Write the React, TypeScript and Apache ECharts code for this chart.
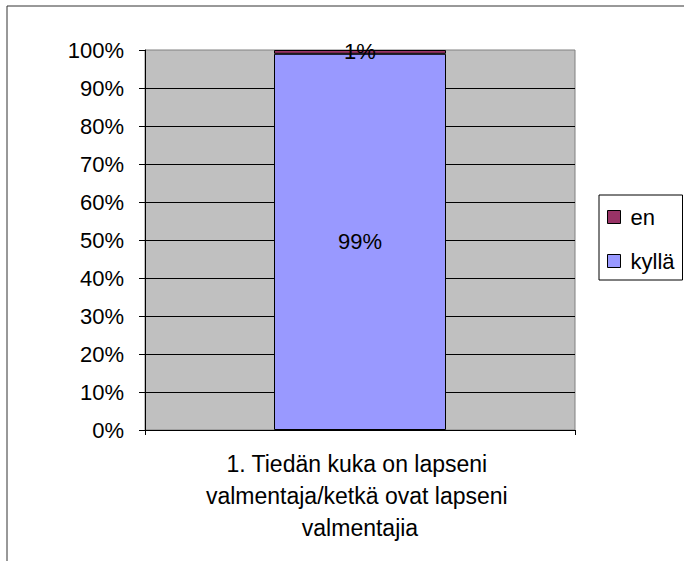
import React, { useEffect, useRef } from "react";
import * as echarts from "echarts";

const categories = ["1. Tiedän kuka on lapseni valmentaja/ketkä ovat lapseni valmentajia"];
const seriesNames = ["kyllä", "en"];
const kyllaValues = [99];
const enValues = [1];
const legendOrder = ["en", "kyllä"];

const FONT = "'Liberation Sans', Arial, sans-serif";

export default function App() {
  const ref = useRef<HTMLDivElement>(null);
  useEffect(() => {
    if (!ref.current) return;
    const chart = echarts.init(ref.current, null, { renderer: "svg" });
    chart.setOption({
      animation: false,
      backgroundColor: "#ffffff",
      textStyle: { fontFamily: FONT },
      graphic: [
        {
          type: "rect",
          shape: { x: 7, y: 6, width: 720, height: 620 },
          style: { fill: "none", stroke: "#333333", lineWidth: 1 },
          silent: true,
          z: 0,
        },
      ],
      grid: {
        left: 145,
        right: 109,
        top: 50,
        bottom: 131,
        show: true,
        backgroundColor: "#C0C0C0",
        borderColor: "#808080",
        borderWidth: 1,
      },
      legend: {
        orient: "vertical",
        left: 599,
        top: 195,
        data: legendOrder,
        icon: "rect",
        itemWidth: 13,
        itemHeight: 13,
        itemGap: 22,
        padding: [11, 8, 8, 8],
        borderColor: "#000000",
        borderWidth: 1,
        backgroundColor: "#ffffff",
        textStyle: {
          fontFamily: FONT,
          fontSize: 22,
          color: "#000000",
          padding: [0, 0, 0, 5],
        },
        itemStyle: { borderColor: "#000000", borderWidth: 1 },
      },
      xAxis: {
        type: "category",
        data: categories,
        axisLine: { show: true, lineStyle: { color: "#000000", width: 1 } },
        axisTick: { show: true, length: 5, lineStyle: { color: "#000000" } },
        axisLabel: {
          fontFamily: FONT,
          fontSize: 23,
          color: "#000000",
          width: 320,
          overflow: "break",
          lineHeight: 32,
          margin: 18,
          align: "center",
        },
        splitLine: { show: false },
      },
      yAxis: {
        type: "value",
        min: 0,
        max: 100,
        interval: 10,
        axisLine: { show: true, lineStyle: { color: "#000000", width: 1 } },
        axisTick: { show: true, length: 6, lineStyle: { color: "#000000" } },
        axisLabel: {
          formatter: "{value}%",
          fontFamily: FONT,
          fontSize: 22,
          color: "#000000",
          margin: 21,
        },
        splitLine: {
          show: true,
          showMaxLine: false,
          lineStyle: { color: "#000000", width: 1 },
        },
      },
      series: [
        {
          name: seriesNames[0],
          type: "bar",
          stack: "total",
          data: kyllaValues,
          barWidth: "40%",
          itemStyle: { color: "#9999FF", borderColor: "#000000", borderWidth: 1 },
          label: {
            show: true,
            position: "inside",
            formatter: "{c}%",
            fontFamily: FONT,
            fontSize: 22,
            color: "#000000",
          },
        },
        {
          name: seriesNames[1],
          type: "bar",
          stack: "total",
          data: enValues,
          barWidth: "40%",
          itemStyle: { color: "#993366", borderColor: "#000000", borderWidth: 1 },
          label: {
            show: true,
            position: "inside",
            formatter: "{c}%",
            fontFamily: FONT,
            fontSize: 22,
            color: "#000000",
          },
        },
      ],
    });
    return () => chart.dispose();
  }, []);
  return (
    <div
      ref={ref}
      style={{ position: "absolute", left: 0, top: 0, width: 684, height: 561 }}
    />
  );
}
